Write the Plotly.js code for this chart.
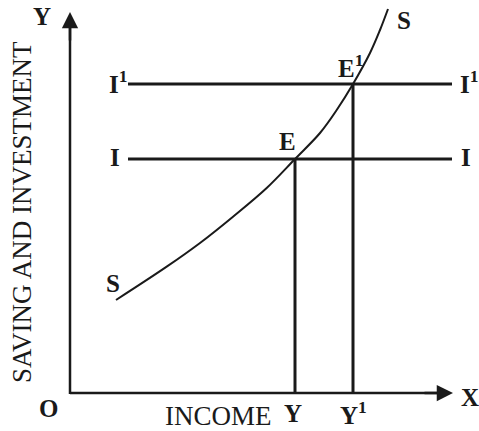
<!DOCTYPE html>
<html>
<head>
<meta charset="utf-8">
<script src="https://cdn.plot.ly/plotly-3.0.1.min.js"></script>
<style>html,body{margin:0;padding:0;background:#fff;}#chart{width:479px;height:431px;}</style>
</head>
<body>
<div id="chart"></div>
<script>
// Saving curve S (income, saving)
const savingIncome = [46, 96.7, 130, 163, 196.7, 225, 250, 266.7, 283, 300, 310, 318];
const savingLevel  = [93, 126.3, 150, 176.3, 205, 234, 260, 283, 309, 340, 363, 384];
// Investment levels I and I1, equilibrium incomes Y and Y1
const investmentLevels = [234, 309];
const equilibriumIncome = [225, 283];
const investmentLabels = ['I', 'I<sup>1</sup>'];
const incomeLabels = ['Y', 'Y<sup>1</sup>'];
const pointLabels = ['E', 'E<sup>1</sup>'];
const investmentSpan = [58, 382];
const axisMax = {x: 383, y: 381};

const ink = '#1a1a1a';
const traces = [];
// axes
traces.push({x: [0, axisMax.x - 10], y: [0, 0], mode: 'lines', line: {color: ink, width: 2.5}, hoverinfo: 'skip'});
traces.push({x: [0, 0], y: [-1, axisMax.y - 10], mode: 'lines', line: {color: ink, width: 2.5}, hoverinfo: 'skip'});
// investment lines
investmentLevels.forEach(v => {
  traces.push({x: investmentSpan, y: [v, v], mode: 'lines', line: {color: ink, width: 3}, hoverinfo: 'skip'});
});
// vertical lines at equilibrium incomes
equilibriumIncome.forEach((xv, i) => {
  traces.push({x: [xv, xv], y: [0, investmentLevels[i]], mode: 'lines', line: {color: ink, width: 3}, hoverinfo: 'skip'});
});
// saving curve
traces.push({x: savingIncome, y: savingLevel, mode: 'lines', line: {color: ink, width: 2, shape: 'spline'}, hoverinfo: 'skip'});

const F = 'Liberation Serif, Times New Roman, serif';
function lab(x, y, text, size, bold) {
  return {x, y, xref: 'x', yref: 'y', text: bold ? '<b>' + text + '</b>' : text, showarrow: false,
          font: {family: F, size: size, color: ink}, xanchor: 'center', yanchor: 'middle'};
}
const B = 25;
const ann = [];
// arrowheads
ann.push({x: axisMax.x, y: 0, ax: axisMax.x - 30, ay: 0, axref: 'x', ayref: 'y', xref: 'x', yref: 'y',
          showarrow: true, arrowhead: 2, arrowwidth: 2.5, arrowsize: 1.3, arrowcolor: ink, text: ''});
ann.push({x: 0, y: axisMax.y, ax: 0, ay: axisMax.y - 30, axref: 'x', ayref: 'y', xref: 'x', yref: 'y',
          showarrow: true, arrowhead: 2, arrowwidth: 2.5, arrowsize: 1.3, arrowcolor: ink, text: ''});
ann.push(lab(-28, 377, 'Y', B, true));
ann.push(lab(-22, -15, 'O', B, true));
ann.push(lab(400, -4, 'X', B, true));
ann.push(lab(148, -23, 'INCOME', 27, false));
ann.push(lab(223, -20, incomeLabels[0], B, true));
ann.push(lab(283, -20, incomeLabels[1], B, true));
ann.push(lab(45, 236, investmentLabels[0], B, true));
ann.push(lab(48, 311, investmentLabels[1], B, true));
ann.push(lab(396, 236, investmentLabels[0], B, true));
ann.push(lab(399, 311, investmentLabels[1], B, true));
ann.push(lab(217, 252, pointLabels[0], B, true));
ann.push(lab(280, 327, pointLabels[1], B, true));
ann.push(lab(334, 373, 'S', B, true));
ann.push(lab(43, 110, 'S', B, true));
ann.push({x: -48, y: 181, xref: 'x', yref: 'y', text: 'SAVING AND INVESTMENT', textangle: -90, showarrow: false,
          font: {family: F, size: 27, color: ink}, xanchor: 'center', yanchor: 'middle'});

const layout = {
  width: 479, height: 431, margin: {l: 0, r: 0, t: 0, b: 0},
  paper_bgcolor: '#fff', plot_bgcolor: '#fff', showlegend: false,
  xaxis: {range: [-70, 409], visible: false, fixedrange: true},
  yaxis: {range: [-38, 393], visible: false, fixedrange: true},
  annotations: ann
};
Plotly.newPlot('chart', traces, layout, {displayModeBar: false, staticPlot: true});
</script>
</body>
</html>
